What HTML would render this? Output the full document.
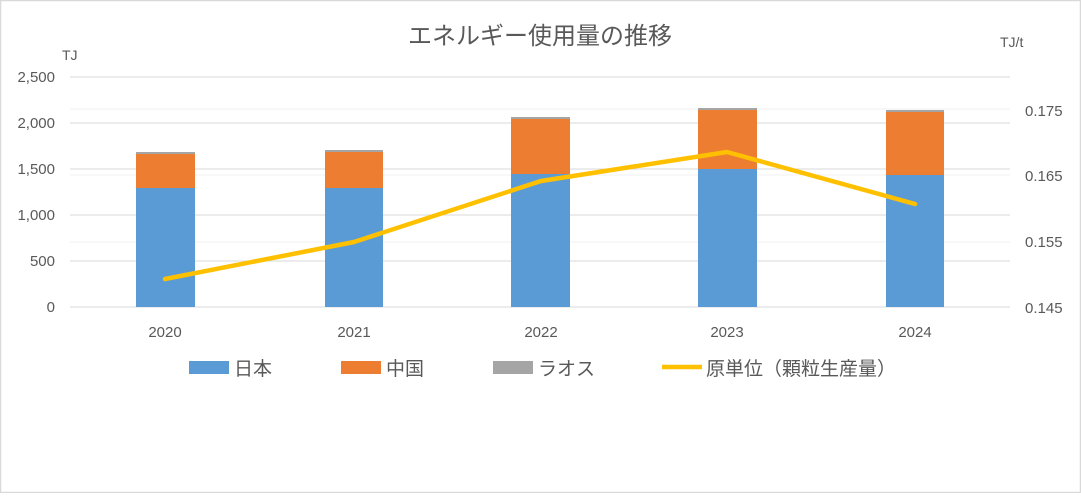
<!DOCTYPE html>
<html><head><meta charset="utf-8"><style>
body{margin:0;background:#fff}
svg text{font-family:"Liberation Sans","Noto Sans CJK JP",sans-serif;fill:#595959}
</style></head><body>
<svg width="1081" height="493" viewBox="0 0 1081 493" xmlns="http://www.w3.org/2000/svg">
<rect x="0.5" y="0.5" width="1080" height="492" fill="#fff" stroke="#d9d9d9" stroke-width="1.5"/>
<text x="540" y="44" font-size="24" text-anchor="middle">エネルギー使用量の推移</text>
<text x="62" y="60" font-size="14">TJ</text>
<text x="1000" y="47" font-size="14">TJ/t</text>
<g stroke="#f2f2f2" stroke-width="1">
<line x1="70" y1="109" x2="1010" y2="109"/><line x1="70" y1="175" x2="1010" y2="175"/><line x1="70" y1="242" x2="1010" y2="242"/>
</g>
<g stroke="#d9d9d9" stroke-width="1">
<line x1="70" y1="77" x2="1010" y2="77"/><line x1="70" y1="123" x2="1010" y2="123"/><line x1="70" y1="169" x2="1010" y2="169"/>
<line x1="70" y1="215" x2="1010" y2="215"/><line x1="70" y1="261" x2="1010" y2="261"/><line x1="70" y1="307" x2="1010" y2="307"/>
</g>
<g font-size="15" text-anchor="end">
<text x="55" y="82">2,500</text><text x="55" y="128">2,000</text><text x="55" y="174">1,500</text>
<text x="55" y="220">1,000</text><text x="55" y="266">500</text><text x="55" y="312">0</text>
</g>
<g font-size="15">
<text x="1025" y="116">0.175</text><text x="1025" y="181">0.165</text><text x="1025" y="247">0.155</text><text x="1025" y="313">0.145</text>
</g>
<g>
<rect x="136" y="152" width="59" height="3" fill="#a5a5a5"/><rect x="136" y="154" width="59" height="34" fill="#ed7d31"/><rect x="136" y="188" width="59" height="119" fill="#5b9bd5"/>
<rect x="325" y="150" width="58" height="3" fill="#a5a5a5"/><rect x="325" y="152" width="58" height="36" fill="#ed7d31"/><rect x="325" y="188" width="58" height="119" fill="#5b9bd5"/>
<rect x="511" y="117" width="59" height="3" fill="#a5a5a5"/><rect x="511" y="119" width="59" height="55" fill="#ed7d31"/><rect x="511" y="174" width="59" height="133" fill="#5b9bd5"/>
<rect x="698" y="108" width="59" height="3" fill="#a5a5a5"/><rect x="698" y="110" width="59" height="59" fill="#ed7d31"/><rect x="698" y="169" width="59" height="138" fill="#5b9bd5"/>
<rect x="886" y="110" width="58" height="3" fill="#a5a5a5"/><rect x="886" y="112" width="58" height="63" fill="#ed7d31"/><rect x="886" y="175" width="58" height="132" fill="#5b9bd5"/>
</g>
<polyline points="165,279 354,242 541,181 727,152 915,204" fill="none" stroke="#ffc000" stroke-width="4.5" stroke-linejoin="round" stroke-linecap="round"/>
<g font-size="15" text-anchor="middle">
<text x="165" y="337">2020</text><text x="354" y="337">2021</text><text x="541" y="337">2022</text><text x="727" y="337">2023</text><text x="915" y="337">2024</text>
</g>
<g font-size="19">
<rect x="189" y="361" width="40" height="13" fill="#5b9bd5"/><text x="234" y="375">日本</text>
<rect x="341" y="361" width="40" height="13" fill="#ed7d31"/><text x="386" y="375">中国</text>
<rect x="493" y="361" width="40" height="13" fill="#a5a5a5"/><text x="538" y="375">ラオス</text>
<line x1="662" y1="367" x2="702" y2="367" stroke="#ffc000" stroke-width="4.5"/><text x="706" y="375">原単位（顆粒生産量）</text>
</g>
</svg>
</body></html>
